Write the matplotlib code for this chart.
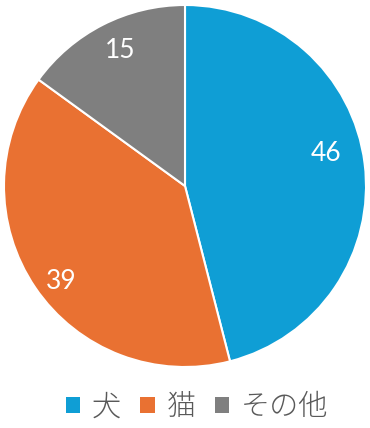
import matplotlib.pyplot as plt
from matplotlib.patches import Patch

plt.rcParams['font.family'] = ['Noto Sans CJK JP', 'DejaVu Sans']

labels = ['犬', '猫', 'その他']
values = [46, 39, 15]
colors = ['#0F9ED5', '#E97132', '#7F7F7F']
# where the value labels sit, in pie units (radius = 1)
label_pos = [(0.779, 0.182), (-0.685, -0.525), (-0.359, 0.751)]

fig = plt.figure(figsize=(3.7, 4.28), dpi=100)
ax = fig.add_axes([(185 - 181) / 370, (242 - 181) / 428, 362 / 370, 362 / 428])

wedges, texts, autotexts = ax.pie(
    values, colors=colors, startangle=90, counterclock=False,
    autopct=lambda p: f'{p * sum(values) / 100:.0f}', pctdistance=0.8,
    wedgeprops=dict(edgecolor='white', linewidth=1.5),
    textprops=dict(color='white', fontsize=19, family='Lato'))
for t, pos in zip(autotexts, label_pos):
    t.set_position(pos)
ax.set_xlim(-1, 1)
ax.set_ylim(-1, 1)
ax.set_aspect('equal')

handles = [Patch(facecolor=c, edgecolor='none') for c in colors]
fig.legend(handles, labels, loc='center', bbox_to_anchor=(197 / 370, 1 - 407 / 428),
           ncol=3, frameon=False,
           prop=dict(size=21, weight='light'), labelcolor='#595959',
           handlelength=0.5, handleheight=0.5, handletextpad=0.4,
           columnspacing=0.65, borderaxespad=0)

fig.savefig('out.png', dpi=100)
